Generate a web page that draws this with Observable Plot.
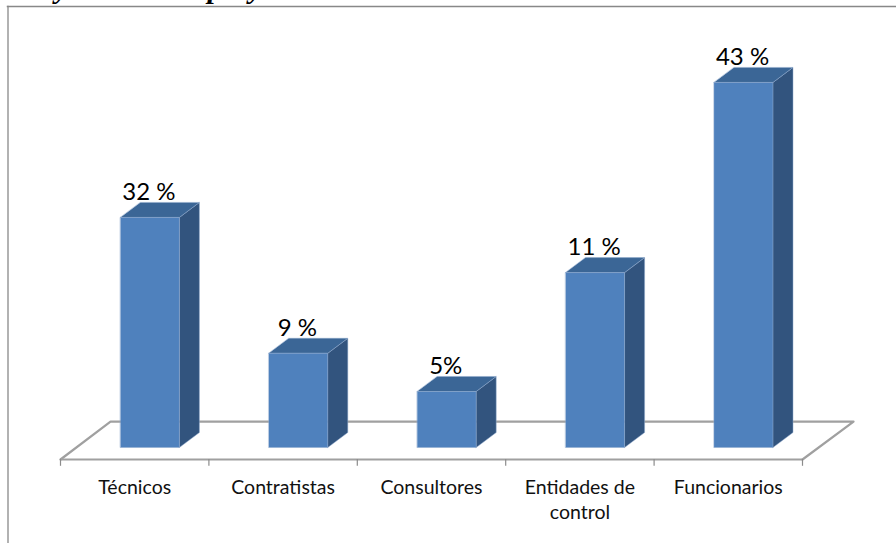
<!DOCTYPE html>
<html><head><meta charset="utf-8">
<script src="https://cdn.jsdelivr.net/npm/d3@7"></script>
<script src="https://cdn.jsdelivr.net/npm/@observablehq/plot@0.6"></script>
<style>
html,body{margin:0;padding:0;background:#fff;overflow:hidden}
#wrap{position:relative;width:896px;height:543px;overflow:hidden}
#title{position:absolute;left:-4px;top:-29px;font:italic bold 30px "Liberation Serif",serif;color:#000;white-space:nowrap}
svg{display:block}
</style></head><body>
<div id="wrap"><div id="title">ente y control de proyectos:</div><div id="chart"></div></div>
<script>
const categories = ["Técnicos", "Contratistas", "Consultores", "Entidades de\ncontrol", "Funcionarios"];
const barHeights = [27.1, 11.1, 6.6, 20.6, 43];
const valueLabels = ["32 %", "9 %", "5%", "11 %", "43 %"];

const rows = categories.map((c, i) => ({c, i, v: barHeights[i], label: valueLabels[i]}));
const barStart = 0.404, barWidth = 0.397, depthX = 0.135, depthY = 1.77, floorY = -1.41;
const poly = (name, pts) => pts.map(([x, y]) => ({name, x, y}));
const frontFaces = [], sideFaces = [], topFaces = [];
rows.forEach(r => {
  const a = r.i + barStart, b = a + barWidth;
  frontFaces.push(...poly("f" + r.i, [[a,0],[b,0],[b,r.v],[a,r.v]]));
  sideFaces.push(...poly("s" + r.i, [[b,0],[b+depthX,depthY],[b+depthX,r.v+depthY],[b,r.v]]));
  topFaces.push(...poly("t" + r.i, [[a,r.v],[b,r.v],[b+depthX,r.v+depthY],[a+depthX,r.v+depthY]]));
});
const floorBack = [{x:0,y:floorY},{x:0.337,y:3.06},{x:5.344,y:3.06},{x:5,y:floorY}];
const face = (d, color) => Plot.line(d, {x:"x", y:"y", z:"name", fill:color, stroke:"#8fa9cc", strokeWidth:0.5, curve:"linear-closed"});

const plot = Plot.plot({
  width: 896, height: 543,
  marginTop: 0, marginRight: 0, marginBottom: 84, marginLeft: 0,
  x: {type:"linear", domain:[0,5], range:[60,802], axis:null},
  y: {type:"linear", domain:[floorY, 52.65], range:[459,0], axis:null},
  marks: [
    Plot.frame({anchor:"left", insetLeft:7.5, insetTop:6, insetBottom:-84, stroke:"#999", strokeWidth:1.5}),
    Plot.frame({anchor:"top", insetTop:6, insetLeft:7, stroke:"#888", strokeWidth:1.5}),
    Plot.line(floorBack, {x:"x", y:"y", stroke:"#a0a0a0", strokeWidth:2.2}),
    Plot.ruleY([floorY], {x1:0, x2:5, stroke:"#a0a0a0", strokeWidth:2.2}),
    Plot.ruleX([0,1,2,3,4,5], {x:d=>d, y1:floorY, y2:floorY-0.8, stroke:"#8c8c8c", strokeWidth:1.2}),
    face(sideFaces, "#32547e"),
    face(topFaces, "#3b6696"),
    face(frontFaces, "#4f81bd"),
    Plot.text(rows, {x:d=>d.i+0.5, text:"c", frameAnchor:"bottom", lineAnchor:"top", dy:17, lineHeight:1.28,
      fontFamily:"Lato", fontSize:19.5, fill:"#111"}),
    Plot.text(rows, {x:d=>d.i+barStart+barWidth/2, y:d=>d.v+depthY, text:"label", lineAnchor:"bottom", dx:-1, dy:-2.5,
      fontFamily:"Lato", fontSize:24, fill:"#000"})
  ]
});
document.getElementById("chart").appendChild(plot);
</script></body></html>
